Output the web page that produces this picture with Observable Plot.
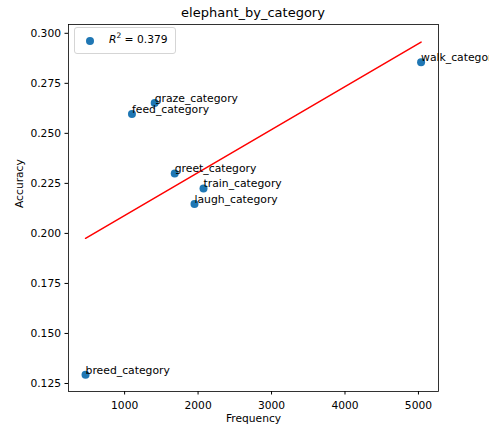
<!DOCTYPE html>
<html><head><meta charset="utf-8">
<script src="https://cdn.jsdelivr.net/npm/d3@7"></script>
<script src="https://cdn.jsdelivr.net/npm/@observablehq/plot@0.6"></script>
<style>
body{margin:0;background:#fff;font-family:"DejaVu Sans",sans-serif;}
#wrap{position:relative;width:489px;height:430px;overflow:hidden;}
#title{height:20px;position:relative;}
#title span{position:absolute;left:68px;width:370px;top:5px;text-align:center;font-size:13px;color:#000;}
#legend{position:absolute;left:74px;top:27px;width:100px;height:25px;border:1px solid #d5d5d5;border-radius:3px;background:rgba(255,255,255,0.8);font-size:10.7px;}
#legend .dot{position:absolute;left:11px;top:9px;width:8px;height:8px;border-radius:50%;background:#1f77b4;}
#legend .lab{position:absolute;left:34px;top:5px;white-space:nowrap;}
#legend sup{font-size:7.5px;vertical-align:5px;line-height:0;}
</style></head><body>
<div id="wrap">
<div id="title"><span>elephant_by_category</span></div>
<div id="chart"></div>
<div id="legend"><div class="dot"></div><div class="lab"><i>R</i><sup>2</sup> = 0.379</div></div>
</div>
<script>
const categories = ["breed_category","feed_category","graze_category","greet_category","train_category","laugh_category","walk_category"];
const frequency = [468, 1100, 1409, 1682, 2074, 1951, 5036];
const accuracy = [0.1294, 0.2597, 0.2652, 0.2300, 0.2225, 0.2147, 0.2855];
const xTicks = [1000, 2000, 3000, 4000, 5000];
const yTicks = [0.125, 0.150, 0.175, 0.200, 0.225, 0.250, 0.275, 0.300];

const data = categories.map((c, i) => ({category: c, frequency: frequency[i], accuracy: accuracy[i]}));

const chart = Plot.plot({
  width: 489, height: 410,
  marginTop: 4, marginBottom: 39, marginLeft: 68, marginRight: 51,
  x: {domain: [236, 5273]},
  y: {domain: [0.121, 0.3044]},
  style: {fontFamily: "DejaVu Sans", fontSize: "10.7px", color: "black", background: "white", overflow: "visible"},
  marks: [
    Plot.axisX({ticks: xTicks, tickSize: 3.5, tickPadding: 6, tickFormat: d => String(d), label: null}),
    Plot.axisY({ticks: yTicks, tickSize: 3.5, tickPadding: 4, tickFormat: d => d.toFixed(3), label: null}),
    Plot.linearRegressionY(data, {x: "frequency", y: "accuracy", stroke: "red", strokeWidth: 1.5, ci: 0}),
    Plot.dot(data, {x: "frequency", y: "accuracy", r: 4, fill: "#1f77b4"}),
    Plot.text(data, {x: "frequency", y: "accuracy", text: "category", textAnchor: "start", lineAnchor: "bottom", dy: -1, fontSize: 10.8, fill: "black"}),
    Plot.frame({stroke: "black", strokeWidth: 0.8}),
    Plot.text(["Frequency"], {frameAnchor: "bottom", dy: 30, text: d => d, fontSize: 10.7}),
    Plot.text(["Accuracy"], {frameAnchor: "left", dx: -49, rotate: -90, text: d => d, fontSize: 10.7})
  ]
});
document.getElementById("chart").appendChild(chart);
</script>
</body></html>
